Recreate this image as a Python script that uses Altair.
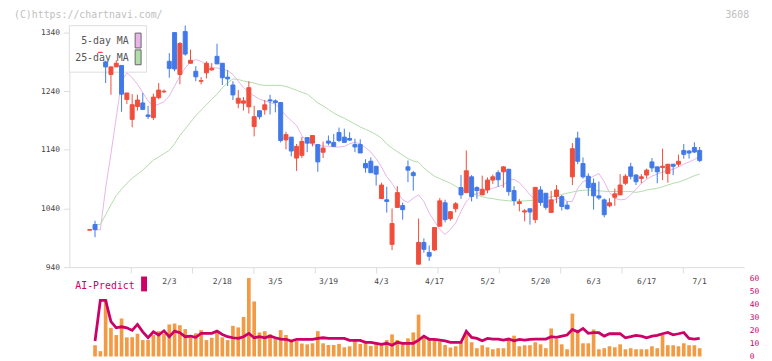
import altair as alt
import pandas as pd

# ---------------- data ----------------
idx = list(range(-15, 101))   # trading-day index, 0 = 2/3, 100 = 7/1

open_ = [1003, 1012.6, 1306, 1290, 1268.6, 1281.5, 1284, 1226, 1192, 1214, 1220, 1199.5, 1195, 1229, 1239,
         1291, 1340, 1268.6, 1341.7, 1287.7, 1274, 1257, 1271.4, 1276.4, 1299.5, 1287.7, 1264, 1250.6, 1219.6, 1219.6,
         1213.4, 1179.7, 1206.7, 1208.4, 1225.2, 1223.5, 1220.7, 1157, 1161.7, 1126, 1130.7, 1161, 1151.5, 1149, 1136,
         1155, 1152.7, 1169.5, 1161.7, 1159.4, 1149, 1149, 1116.7, 1120.6, 1112, 1057, 1054.8, 978.8, 1041.8, 1045,
         1111, 1101, 945, 982, 965, 969.3, 1009.8, 1049.7, 1022.7, 1039.6, 1075.6, 1067, 1094, 1075.6, 1063.2,
         1071.6, 1088.5, 1101, 1102.6, 1107, 1070.5, 1048.5, 1034, 1039.5, 1021, 1071.6, 1066, 1033.3, 1060.3, 1060.3,
         1045.7, 1094, 1160, 1116.6, 1095, 1083, 1061.5, 1054.7, 1044.6, 1059.2, 1063.2, 1083, 1111, 1097, 1091.3,
         1097, 1119.4, 1111, 1110, 1099.7, 1115.5, 1115.5, 1139, 1138, 1144, 1139]
high = [1004, 1019, 1307, 1292, 1282, 1292.7, 1284, 1237, 1235, 1234, 1237, 1215, 1236, 1254, 1243,
        1305, 1340, 1324, 1352, 1311, 1282.6, 1264, 1291, 1288, 1321, 1288, 1276, 1257, 1242, 1230,
        1257, 1215, 1207, 1225, 1234, 1226, 1221, 1171, 1162, 1150, 1162, 1161, 1165, 1149, 1154,
        1164.5, 1167, 1178, 1176, 1170, 1159, 1158, 1124, 1127, 1112, 1084, 1077, 1040, 1078, 1050,
        1122, 1104, 1023, 989, 977, 1008, 1058, 1055, 1035, 1051, 1097, 1139, 1097, 1078, 1096,
        1093, 1098, 1105, 1112, 1107, 1078, 1056, 1039, 1040, 1076, 1078, 1066, 1070, 1080, 1063,
        1052, 1151.5, 1171, 1127, 1100, 1091, 1086, 1057, 1057.5, 1074, 1098.6, 1098.6, 1118, 1098.6, 1098.6,
        1108, 1126, 1111, 1142, 1115.5, 1115.5, 1132, 1150, 1140, 1153, 1145]
low = [1003, 991, 1305.5, 1254, 1234, 1281.5, 1205, 1218, 1178.5, 1207, 1209, 1192.6, 1191, 1226, 1237,
       1263, 1274, 1252, 1300.6, 1287.7, 1257, 1251.7, 1262, 1275, 1286.6, 1250.6, 1249, 1225, 1211, 1207,
       1202, 1163, 1192, 1200, 1200.5, 1204, 1152.7, 1141, 1129, 1104, 1126, 1136, 1146, 1102.6, 1126,
       1147.6, 1146, 1153, 1152.7, 1156, 1136, 1134.7, 1101, 1101, 1079, 1057, 1033, 969, 1041.8, 1021,
       1085, 1070.5, 945, 964.7, 950.7, 967.6, 1009, 1016.5, 1019.3, 1033.4, 1056.5, 1067, 1052, 1056.5, 1063,
       1066, 1082, 1077, 1075.5, 1062, 1045, 1035, 1018, 1012.5, 1015, 1044.6, 1038, 1033, 1049, 1036.7,
       1038, 1080, 1115.5, 1091, 1061.5, 1038, 1054.7, 1025, 1042, 1044.6, 1063, 1080, 1089.6, 1080, 1083,
       1091, 1102.5, 1083, 1088.5, 1084, 1097, 1111, 1125, 1125, 1134.6, 1119]
close = [1004, 1004, 1306.5, 1281.5, 1281.5, 1287.7, 1235, 1237, 1217, 1225, 1209, 1197, 1230, 1242, 1240,
         1279, 1278, 1321.4, 1303.4, 1292.7, 1264.6, 1258, 1287.7, 1279.2, 1286.6, 1263, 1261, 1233.7, 1228, 1223.5,
         1246, 1196.5, 1196.5, 1216.8, 1223.5, 1220.7, 1156, 1166, 1138, 1146, 1154.3, 1151.5, 1164.5, 1119.5, 1143,
         1151.5, 1146, 1156, 1152.7, 1156.6, 1145, 1134.7, 1109.3, 1101, 1098.6, 1080, 1052, 1014.3, 1067.1, 1038,
         1105.4, 1096, 982, 970.4, 958.6, 1007.5, 1053, 1021, 1034.5, 1048, 1063.2, 1104.3, 1060.4, 1070.5, 1072.8,
         1088.5, 1094, 1089, 1111, 1068.8, 1053.6, 1051.3, 1036, 1034, 1076, 1050.2, 1042, 1054.7, 1071.6, 1043.5,
         1039.5, 1142, 1120.5, 1094, 1075.5, 1061.5, 1058, 1029.4, 1049.7, 1065, 1080, 1095, 1095, 1085.7, 1094,
         1105.4, 1109.3, 1102.5, 1112, 1115.5, 1112, 1120.5, 1132.4, 1134.6, 1136.3, 1122]
ma5 = [None, 1003.6, 1003.6, 1075, 1133.5, 1195.4, 1257.3, 1271.4, 1263, 1251.7, 1237.6, 1223.5, 1215, 1218, 1221.9,
       1232, 1248.9, 1265.7, 1279.8, 1289.9, 1293.9, 1291, 1285.4, 1279.8, 1279.8, 1277, 1275.3, 1268.6, 1257.3, 1246,
       1237.6, 1232, 1226.4, 1223.5, 1220.7, 1218, 1209.5, 1198.2, 1189.8, 1181.4, 1164.5, 1153.2, 1149.3, 1147.6, 1146.5,
       1145.9, 1144.8, 1144.8, 1145.9, 1150.4, 1152.7, 1150.4, 1143.7, 1136.3, 1125, 1111, 1094.2, 1082.9, 1068.8, 1054.8,
       1050.3, 1057.6, 1063.2, 1052, 1032.3, 1018.2, 1004.1, 995.7, 1004.1, 1015.4, 1035.1, 1052, 1061.5, 1066, 1067.1,
       1071.6, 1074.5, 1077.3, 1080.1, 1088.5, 1089.6, 1084, 1074.4, 1063.2, 1054.7, 1051.9, 1051.9, 1053, 1055.8, 1059.2,
       1051.9, 1051.9, 1074.4, 1085.7, 1089.6, 1095.2, 1099.7, 1085.7, 1067.1, 1057.5, 1054.7, 1055.8, 1063.2, 1072.7, 1082.9,
       1089.6, 1095.2, 1098.6, 1102, 1104.2, 1107, 1111, 1115.5, 1119.4, 1123.4, 1129]
ma25 = [None, 1012.6, 1012.6, 1029.5, 1046.3, 1062, 1072.8, 1082.9, 1091.3, 1098.6, 1105.4, 1113.8, 1122.3, 1127.9, 1133.5,
        1139.2, 1150.4, 1164.5, 1175.7, 1187, 1198.2, 1207.8, 1216.8, 1226.4, 1234.8, 1246, 1254.5, 1261, 1260, 1257.5,
        1255.5, 1254, 1251, 1250, 1250, 1250, 1250, 1248, 1245, 1241.6, 1238, 1235, 1228, 1220, 1215,
        1209, 1203, 1198, 1194, 1189, 1184, 1179, 1175, 1171, 1166, 1160, 1150, 1143, 1137, 1131,
        1125, 1121, 1119, 1109, 1102, 1095, 1091, 1087, 1083, 1078, 1072, 1069, 1066, 1063, 1060,
        1058, 1057, 1055, 1054, 1053, 1052.5, 1052.5, 1053, 1053.5, 1054.5, 1056, 1058, 1060, 1062, 1064,
        1066, 1068, 1070, 1071, 1071.5, 1071, 1070, 1069.5, 1069, 1069, 1068.8, 1068.8, 1068.8, 1067.5, 1069,
        1071.6, 1073, 1074.5, 1077, 1080, 1083, 1085, 1088, 1092, 1096, 1098.6]
volume = [None, 8.7, 4.1, 43.9, 22.2, 16.6, 29.4, 14.8, 14.8, 17.6, 12.7, 12.7, 16.6, 19.6, 17.6,
          24.8, 25.5, 24.2, 21.2, 14.5, 17.9, 20.4, 12.7, 14.5, 18.4, 14.8, 12.7, 23.7, 22.5, 30.6,
          60.8, 42.6, 18.6, 19.6, 17.1, 14.5, 20.4, 16.6, 11.5, 12, 10, 9.4, 10.2, 19.6, 10.2,
          8.9, 8.9, 9.7, 7.1, 7.9, 12, 9.7, 10.5, 8.2, 10.5, 10.2, 12.7, 17.1, 12.7, 11,
          14, 18.6, 32.4, 14.5, 13.3, 13.5, 11.5, 8.9, 6.9, 7.9, 11, 17.6, 11, 6.4, 8.7,
          7.1, 5.6, 6.4, 6.4, 13.5, 16.1, 7.9, 8.7, 8.7, 11, 9.4, 6.4, 21.7, 13.5, 9.4,
          5.6, 33.2, 19.1, 10.2, 10.2, 20.9, 5.6, 6.4, 7.9, 7.1, 9.4, 5.6, 6.4, 5.6, 5.6,
          5.6, 7.9, 6.4, 16.6, 8.7, 8.7, 7.9, 10.2, 8.7, 8.7, 6.4]
ai_predict = [None, 12, 43.4, 43.4, 27, 22.2, 23, 22.2, 20.2, 24.8, 19.1, 14.5, 19.1, 16.6, 19.9,
              15.3, 19.6, 18.4, 15.3, 15.8, 14.8, 17.9, 17.9, 17.9, 19.6, 17.1, 15.3, 14.5, 14, 15.3,
              17.9, 14.5, 15.3, 14.5, 15.8, 14.5, 13.5, 13.3, 12, 13.3, 13.3, 13.3, 13.3, 14, 14.5,
              14, 14, 14, 14, 12.5, 12.5, 12.5, 11, 11, 10.2, 9.4, 10.2, 8.7, 11, 10.2,
              10.2, 10.2, 12.7, 15.8, 13.3, 13.3, 12.7, 12, 11, 11, 11, 19.6, 14.8, 14, 12.2,
              14, 13.5, 13.5, 12.7, 13.5, 12.2, 13.3, 12.7, 13.3, 13.5, 13.5, 13.5, 15.3, 14.8, 15.8,
              16.6, 20.9, 19.1, 21.7, 17.9, 18.4, 18.4, 15.8, 17.6, 17.6, 17.6, 14.5, 15.3, 16.3, 15.8,
              14.5, 15.8, 16.3, 17.6, 18.6, 16.8, 17.6, 18.6, 14, 13.5, 14]

date_idx = [0, 10, 20, 30, 40, 50, 60, 70, 80, 90, 100]
date_labels = ["2/3", "2/18", "3/5", "3/19", "4/3", "4/17", "5/2", "5/20", "6/3", "6/17", "7/1"]
price_ticks = [940, 1040, 1140, 1240, 1340]
ai_ticks = [0, 10, 20, 30, 40, 50, 60]

# ---------------- styling ----------------
RED = "#f04e3c"
BLUE = "#4179e8"
ORANGE = "#f29a44"
CRIMSON = "#cc0066"
PINK = "#e8b4ea"
GREEN = "#b2dcaa"
GRID = "#dddddd"
MONO = "DejaVu Sans Mono"

W, H = 682, 335
X_DOM = [-18.843, 108.396]
xs = alt.Scale(domain=X_DOM, nice=False, zero=False)
x_ticks = [X_DOM[0] + k * (X_DOM[1] - X_DOM[0]) / 11 for k in range(1, 12)]
xaxis = alt.Axis(orient="bottom", offset=-(H - 244), values=x_ticks, labels=False, tickSize=6,
                 tickColor=GRID, domainColor=GRID, grid=False, title=None)

price_scale = alt.Scale(domain=[940, 1351.8], range=[244, 0], nice=False, zero=False)
low_scale = alt.Scale(domain=[0, 61], range=[334.3, 254.7], nice=False, zero=False)

df = pd.DataFrame({"i": idx, "open": open_, "high": high, "low": low, "close": close,
                   "ma5": ma5, "ma25": ma25, "vol": volume, "ai": ai_predict})
df["col"] = [RED if c >= o else BLUE for o, c in zip(df["open"], df["close"])]

base = alt.Chart(df)
X = alt.X("i:Q", scale=xs, axis=xaxis)

legend_box = alt.Chart(pd.DataFrame({"a": [0]})).mark_rect(fill="white", stroke=GRID, strokeWidth=1).encode(
    x=alt.value(0), x2=alt.value(78), y=alt.value(0), y2=alt.value(47))

ma5_line = base.mark_line(color=PINK, strokeWidth=1).encode(
    x=X, y=alt.Y("ma5:Q", scale=price_scale, axis=None))
ma25_line = base.mark_line(color=GREEN, strokeWidth=1).encode(
    x=X, y=alt.Y("ma25:Q", scale=price_scale, axis=None))

wicks = base.mark_rule(strokeWidth=1).encode(
    x=X, y=alt.Y("low:Q", scale=price_scale, axis=None), y2="high:Q",
    color=alt.Color("col:N", scale=None))

bodies = base.transform_calculate(x1="datum.i - 0.375", x2="datum.i + 0.375").mark_rect(strokeWidth=1).encode(
    x=alt.X("x1:Q", scale=xs, axis=xaxis), x2="x2:Q",
    y=alt.Y("open:Q", scale=price_scale,
            axis=alt.Axis(orient="left", values=price_ticks, format="d", tickSize=6, labelPadding=4,
                          tickColor=GRID, domainColor=GRID, labelColor="#444444", labelFont=MONO,
                          labelFontSize=8, grid=False, title=None)),
    y2="close:Q",
    color=alt.Color("col:N", scale=None), stroke=alt.Stroke("col:N", scale=None))

vol_bars = base.transform_filter("isValid(datum.vol)").transform_calculate(
    v1="datum.i - 0.345", v2="datum.i + 0.345", z="0").mark_rect(color=ORANGE).encode(
    x=alt.X("v1:Q", scale=xs, axis=xaxis), x2="v2:Q",
    y=alt.Y("vol:Q", scale=low_scale, axis=None), y2="z:Q")

ai_line = base.mark_line(color=CRIMSON, strokeWidth=2.8).encode(
    x=X, y=alt.Y("ai:Q", scale=low_scale,
                  axis=alt.Axis(orient="right", values=ai_ticks, format="d", domain=False, ticks=False,
                                labelPadding=5, labelColor=CRIMSON, labelFont=MONO, labelFontSize=8,
                                grid=False, title=None)))

dates = alt.Chart(pd.DataFrame({"i": date_idx, "lab": date_labels})).mark_text(
    font=MONO, fontSize=8, color="#444444", baseline="alphabetic", align="center").encode(
    x=alt.X("i:Q", scale=xs, axis=xaxis), y=alt.value(261), text="lab:N")

# legend and captions
lg = pd.DataFrame({"t": ["5-day MA", "25-day MA"], "c": [PINK, GREEN]})
leg_text1 = alt.Chart(lg.iloc[[0]]).mark_text(font=MONO, fontSize=10, color="#555555", align="right",
                                               baseline="alphabetic").encode(x=alt.value(60), y=alt.value(19), text="t:N")
leg_text2 = alt.Chart(lg.iloc[[1]]).mark_text(font=MONO, fontSize=10, color="#555555", align="right",
                                               baseline="alphabetic").encode(x=alt.value(60), y=alt.value(36), text="t:N")
sw1 = alt.Chart(lg.iloc[[0]]).mark_rect(fill=PINK, stroke="#666666", strokeWidth=1).encode(
    x=alt.value(66.5), x2=alt.value(72.5), y=alt.value(7.5), y2=alt.value(22.5))
sw2 = alt.Chart(lg.iloc[[1]]).mark_rect(fill=GREEN, stroke="#666666", strokeWidth=1).encode(
    x=alt.value(66.5), x2=alt.value(72.5), y=alt.value(24.5), y2=alt.value(39.5))

cap = pd.DataFrame({"t": ["(C)https://chartnavi.com/", "3608", "AI-Predict"]})
title_t = alt.Chart(cap.iloc[[0]]).mark_text(font=MONO, fontSize=10, color="#c0c0c0", align="left",
                                             baseline="alphabetic").encode(x=alt.value(-56), y=alt.value(-8), text="t:N")
code_t = alt.Chart(cap.iloc[[1]]).mark_text(font=MONO, fontSize=10, color="#c0c0c0", align="right",
                                            baseline="alphabetic").encode(x=alt.value(687), y=alt.value(-8), text="t:N")
ai_t = alt.Chart(cap.iloc[[2]]).mark_text(font=MONO, fontSize=10, color=CRIMSON, align="left",
                                          baseline="alphabetic").encode(x=alt.value(6), y=alt.value(266), text="t:N")
ai_sw = alt.Chart(cap.iloc[[2]]).mark_rect(fill=CRIMSON).encode(
    x=alt.value(72.5), x2=alt.value(78.5), y=alt.value(253.5), y2=alt.value(268.5))

chart = alt.layer(
    legend_box, leg_text1, leg_text2, sw1, sw2,
    ma5_line, ma25_line, wicks, bodies,
    vol_bars, ai_line, dates, title_t, code_t, ai_t, ai_sw,
).resolve_scale(y="independent").properties(
    width=W, height=H,
    autosize=alt.AutoSizeParams(type="none"),
    padding={"left": 62, "top": 16, "right": 20, "bottom": 1},
).configure_view(stroke=None)

chart.save("out.html", embed_options={"renderer": "svg", "actions": False})
